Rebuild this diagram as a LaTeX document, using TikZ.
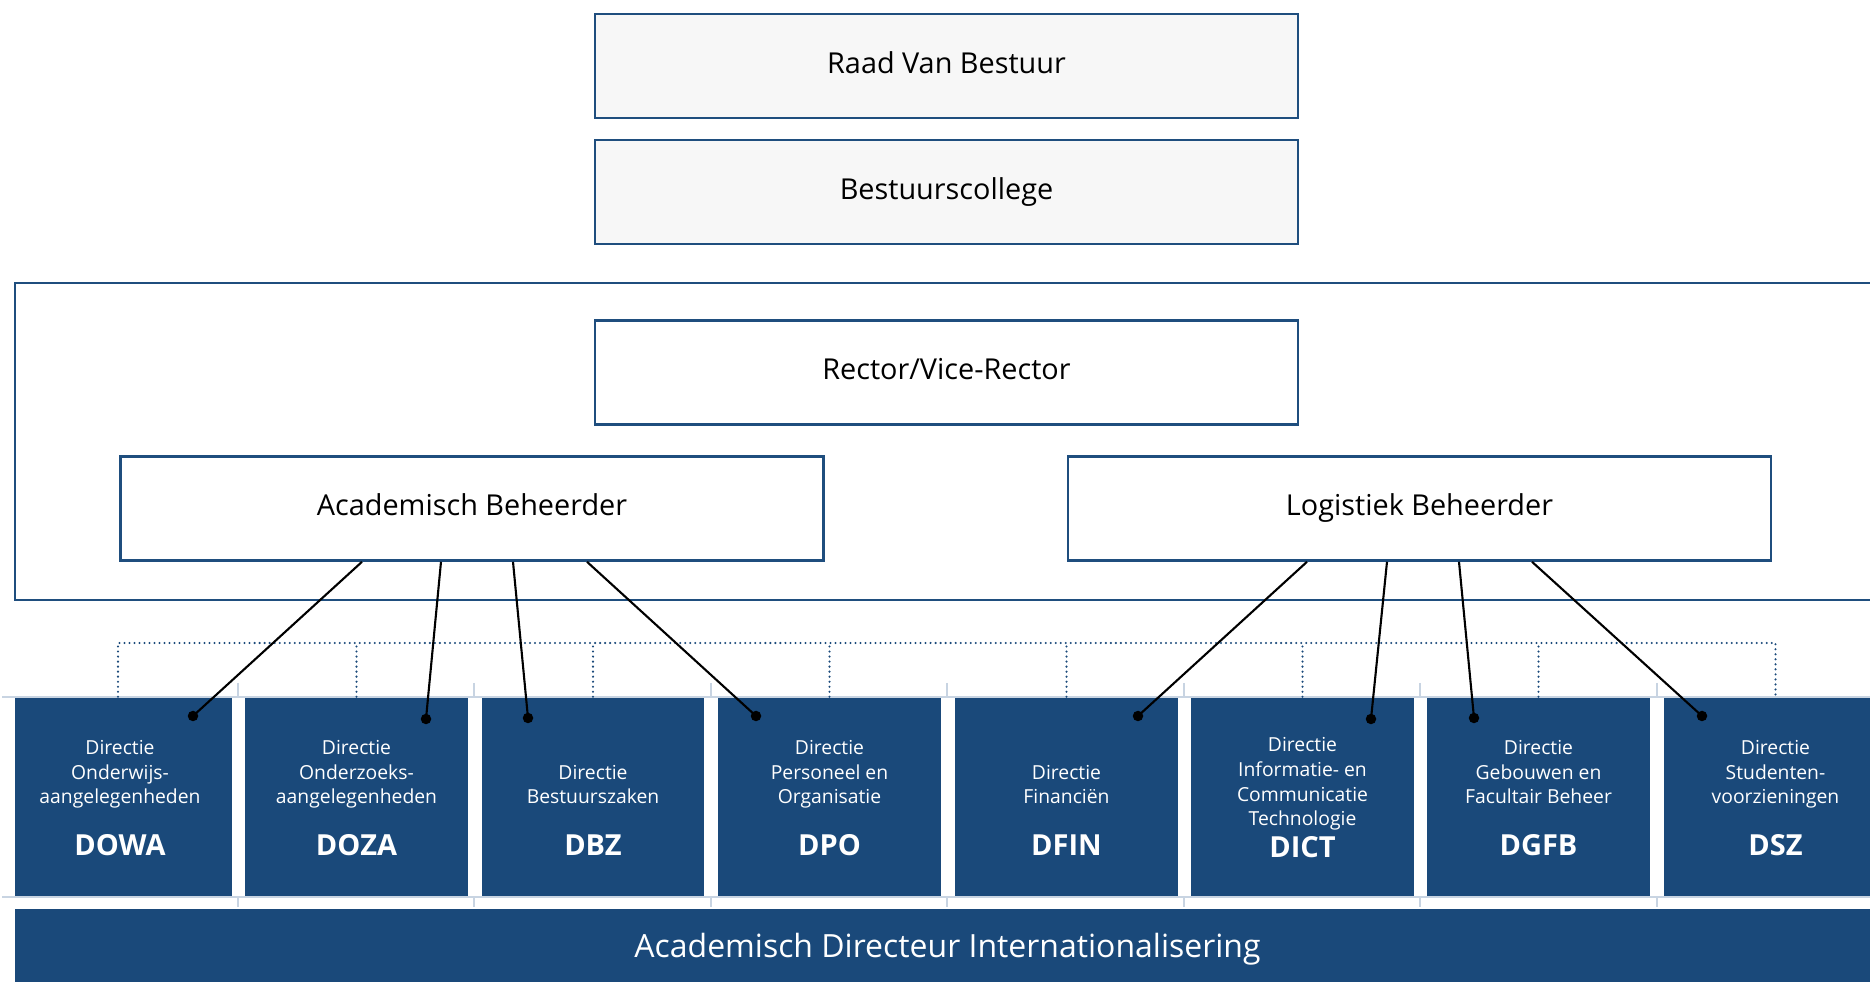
\documentclass[tikz,border=0pt]{standalone}
\usepackage{fontspec}
\setmainfont{Open Sans}
\usetikzlibrary{calc}
\definecolor{uanavy}{RGB}{26,73,122}
\definecolor{uaborder}{RGB}{31,78,126}
\definecolor{uagrey}{RGB}{247,247,247}
\definecolor{uagrid}{RGB}{200,212,226}
\tikzset{
  topbox/.style={draw=uaborder,line width=1.5pt,fill=uagrey,minimum width=14.06cm,minimum height=2.08cm,inner sep=0,
    text height=0.95em,text depth=0.1em,font=\fontsize{16.4}{20}\selectfont},
  mgrbox/.style={topbox,fill=white},
  dirbox/.style={fill=uanavy,minimum width=4.46cm,minimum height=4cm,inner sep=0},
  dirtext/.style={text=white,font=\fontsize{11}{14}\selectfont,align=center,anchor=south,text depth=0pt,inner sep=0},
  dirlabel/.style={text=white,font=\fontsize{16.5}{20}\selectfont\bfseries,anchor=base,inner sep=0},
  blob/.style={circle,fill=black,inner sep=0,minimum size=0.21cm},
  link/.style={line width=1.2pt},
  dotline/.style={draw=uanavy,line width=1.3pt,line cap=round,dash pattern=on 0pt off 2.85pt},
  gridline/.style={draw=uagrid,line width=0.6pt}
}
\begin{document}
\begin{tikzpicture}[x=0.02cm,y=-0.02cm]
\useasboundingbox (0,0) rectangle (1870,982);
\clip (0,0) rectangle (1870,982);
% board
\node[topbox] (raad) at (946.5,66) {Raad Van Bestuur};
\node[topbox] (college) at (946.5,192) {Bestuurscollege};
\draw[draw=uaborder,line width=1.5pt] (15,283) rectangle (1895,600);
\node[mgrbox] (rector) at (946.5,372.5) {Rector/Vice-Rector};
\node[mgrbox] (acad) at (472,508.5) {Academisch Beheerder};
\node[mgrbox] (logi) at (1419.5,508.5) {Logistiek Beheerder};
% directies
\node[dirbox,minimum width=4.34cm] (dowa) at (123.5,797) {};
\node[dirbox] (doza) at (356.5,797) {};
\node[dirbox] (dbz) at (593,797) {};
\node[dirbox] (dpo) at (829.5,797) {};
\node[dirbox] (dfin) at (1066.5,797) {};
\node[dirbox] (dict) at (1302.5,797) {};
\node[dirbox] (dgfb) at (1538.5,797) {};
\node[dirbox] (dsz) at (1775.5,797) {};
\node[dirtext] (dowat) at (120,804) {Directie\\Onderwijs-\\aangelegenheden};
\node[dirlabel] (dowal) at (120,855) {DOWA};
\node[dirtext] (dozat) at (356.5,804) {Directie\\Onderzoeks-\\aangelegenheden};
\node[dirlabel] (dozal) at (356.5,855) {DOZA};
\node[dirtext] (dbzt) at (593,804) {Directie\\Bestuurszaken};
\node[dirlabel] (dbzl) at (593,855) {DBZ};
\node[dirtext] (dpot) at (829.5,804) {Directie\\Personeel en\\Organisatie};
\node[dirlabel] (dpol) at (829.5,855) {DPO};
\node[dirtext] (dfint) at (1066.5,804) {Directie\\Financiën};
\node[dirlabel] (dfinl) at (1066.5,855) {DFIN};
\node[dirtext] (dictt) at (1302.5,826) {Directie\\Informatie- en\\Communicatie\\Technologie};
\node[dirlabel] (dictl) at (1302.5,857.5) {DICT};
\node[dirtext] (dgfbt) at (1538.5,804) {Directie\\Gebouwen en\\Facultair Beheer};
\node[dirlabel] (dgfbl) at (1538.5,855) {DGFB};
\node[dirtext] (dszt) at (1775.5,804) {Directie\\Studenten-\\voorzieningen};
\node[dirlabel] (dszl) at (1775.5,855) {DSZ};
\node[fill=uanavy,minimum width=37.3cm,minimum height=1.64cm,inner sep=0,text=white,
  text height=0.95em,text depth=0.1em,font=\fontsize{18.2}{22}\selectfont] (adi) at (947.5,950)
  {Academisch Directeur Internationalisering};
% table lines
\draw[gridline] (2,697) -- (1870,697) (2,897) -- (1870,897)
  (238,683) -- (238,697) (238,897) -- (238,907) (474,683) -- (474,697) (474,897) -- (474,907)
  (711,683) -- (711,697) (711,897) -- (711,907) (947,683) -- (947,697) (947,897) -- (947,907)
  (1184,683) -- (1184,697) (1184,897) -- (1184,907) (1420,683) -- (1420,697) (1420,897) -- (1420,907)
  (1657,683) -- (1657,697) (1657,897) -- (1657,907);
% dotted bar
\coordinate (bar) at (0,643);
\coordinate (dowatop) at ($(dowa.north)+(-5.5,0)$);
\draw[dotline] (dowatop) -- (dowatop |- bar) -- (dsz.north |- bar) -- (dsz.north);
\draw[dotline] (doza.north) -- (doza.north |- bar) (dbz.north) -- (dbz.north |- bar)
  (dpo.north) -- (dpo.north |- bar) (dfin.north) -- (dfin.north |- bar)
  (dict.north) -- (dict.north |- bar) (dgfb.north) -- (dgfb.north |- bar);
% links
\node[blob] (dowad) at (193,716) {};
\node[blob] (dozad) at (426,719) {};
\node[blob] (dbzd) at (528,718) {};
\node[blob] (dpod) at (756,716) {};
\node[blob] (dfind) at (1138,716) {};
\node[blob] (dictd) at (1371,719) {};
\node[blob] (dgfbd) at (1474,718) {};
\node[blob] (dszd) at (1702,716) {};
\draw[link] ($(acad.south)+(-110,0)$) -- (dowad.center);
\draw[link] ($(acad.south)+(-31,0)$) -- (dozad.center);
\draw[link] ($(acad.south)+(41,0)$) -- (dbzd.center);
\draw[link] ($(acad.south)+(115,0)$) -- (dpod.center);
\draw[link] ($(logi.south)+(-112.5,0)$) -- (dfind.center);
\draw[link] ($(logi.south)+(-32.5,0)$) -- (dictd.center);
\draw[link] ($(logi.south)+(39.5,0)$) -- (dgfbd.center);
\draw[link] ($(logi.south)+(112.5,0)$) -- (dszd.center);
\end{tikzpicture}
\end{document}
